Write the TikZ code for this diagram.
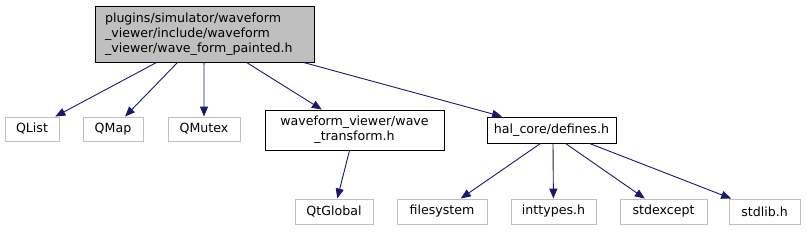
\documentclass[tikz,border=0pt]{standalone}
\usepackage{fontspec}
\setmainfont{DejaVu Sans}
\usetikzlibrary{arrows.meta}
\definecolor{edgeblue}{HTML}{191970}
\definecolor{boxgray}{HTML}{BFBFBF}
\begin{document}
\begin{tikzpicture}[x=1pt,y=-1pt,
  every node/.style={font=\fontsize{12.6}{15}\selectfont,inner sep=0pt,minimum height=24pt},
  file/.style={draw=black,line width=0.9pt},
  extfile/.style={draw=boxgray,line width=0.9pt},
  dep/.style={draw=edgeblue,line width=0.9pt,-{Triangle[length=10pt,width=8pt]}}]
\useasboundingbox (0,0) rectangle (812,231);
\node[file,fill=boxgray,minimum width=219pt,minimum height=56pt,text width=199pt,align=left] (root) at (204.5,34)
  {plugins/simulator/waveform\\\_viewer/include/waveform\\\_viewer/wave\_form\_painted.h};
\node[extfile,minimum width=54pt] (qlist) at (32,129) {QList};
\node[extfile,minimum width=60pt] (qmap) at (113,129) {QMap};
\node[extfile,minimum width=72pt] (qmutex) at (204,129) {QMutex};
\node[file,minimum width=179pt,minimum height=40pt,align=center] (wavetr) at (354.5,130) {waveform\_viewer/wave\\\_transform.h};
\node[file,minimum width=129pt,minimum height=26pt] (halcore) at (551.5,130) {hal\_core/defines.h};
\node[extfile,minimum width=78pt,minimum height=25pt] (qtglobal) at (334,211.5) {QtGlobal};
\node[extfile,minimum width=90pt,minimum height=25pt] (filesys) at (442,211.5) {filesystem};
\node[extfile,minimum width=85pt,minimum height=25pt] (inttypes) at (553.5,211.5) {inttypes.h};
\node[extfile,minimum width=87pt,minimum height=25pt] (stdexc) at (663.5,211.5) {stdexcept};
\node[extfile,minimum width=71pt,minimum height=25pt] (stdlib) at (764.5,211.5) {stdlib.h};
% includes of the painted header
\draw[dep] ([xshift=62pt]root.south west) -- (qlist);
\draw[dep] ([xshift=83pt]root.south west) -- (qmap);
\draw[dep] ([xshift=109.5pt]root.south west) -- (qmutex);
\draw[dep] ([xshift=152pt]root.south west) -- (wavetr);
\draw[dep] ([xshift=-11pt]root.south east) -- (halcore);
\draw[dep] ([xshift=-5pt]wavetr.south) -- (qtglobal);
% hal_core/defines.h
\draw[dep] ([xshift=-11pt]halcore.south) -- (filesys);
\draw[dep] ([xshift=1.5pt]halcore.south) -- (inttypes);
\draw[dep] ([xshift=14pt]halcore.south) -- (stdexc);
\draw[dep] ([xshift=38pt]halcore.south) -- (stdlib);
\end{tikzpicture}
\end{document}
